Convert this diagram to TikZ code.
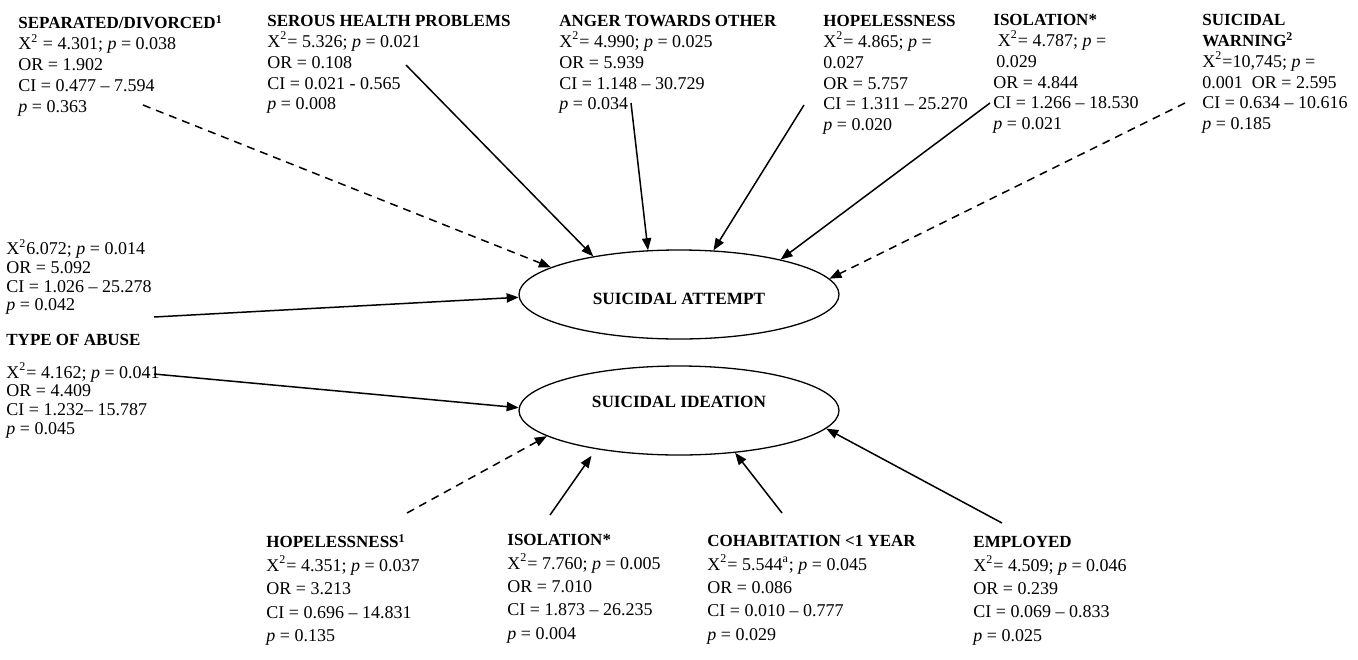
\documentclass[tikz,border=0pt]{standalone}
\usepackage{fontspec}
\setmainfont{Liberation Serif}
\usetikzlibrary{arrows.meta,shapes.geometric}
\newcommand{\chisq}{X\textsuperscript{2}}
\newcommand{\pval}{\textit{p}}
\newcommand{\hd}{\fontsize{8.5}{10}\selectfont\bfseries}

\begin{document}
\begin{tikzpicture}[x=0.5pt,y=-0.5pt,
  stat/.style={align=left, anchor=north west, inner sep=0pt},
  topstat/.style={stat, font=\fontsize{9}{10.4}\selectfont},
  sidestat/.style={stat, font=\fontsize{9}{9.3}\selectfont},
  lowstat/.style={stat, font=\fontsize{9}{11.7}\selectfont},
  outcome/.style={ellipse, draw, line width=0.65pt, minimum width=160pt, minimum height=44.5pt,
                  inner sep=0pt, font=\fontsize{8.6}{10}\selectfont\bfseries},
  sig/.style={line width=0.75pt, -{Triangle[length=6pt,width=4.6pt]}},
  nonsig/.style={sig, dash pattern=on 4pt off 3pt}]
\useasboundingbox (0,0) rectangle (1358,659);

%---------------- outcomes -----------------
\node[outcome, text height=10.2pt, text depth=0pt] (att) at (679,294.5) {SUICIDAL ATTEMPT};
\node[outcome, text height=5.7pt, text depth=8.5pt] (ide) at (679,410.5) {SUICIDAL IDEATION};

%---------------- factors for suicidal attempt -----------------
\node[topstat] (sep) at (18,15) {{\hd SEPARATED/DIVORCED\textsuperscript{1}}\\
  \chisq{} = 4.301; \pval{} = 0.038\\ OR = 1.902\\ CI = 0.477 -- 7.594\\ \pval{} = 0.363};
\node[topstat] (ser) at (267,15) {{\hd SEROUS HEALTH PROBLEMS}\\
  \chisq= 5.326; \pval{} = 0.021\\ OR = 0.108\\ CI = 0.021 - 0.565\\ \pval{} = 0.008};
\node[topstat] (ang) at (559,15) {{\hd ANGER TOWARDS OTHER}\\
  \chisq= 4.990; \pval{} = 0.025\\ OR = 5.939\\ CI = 1.148 -- 30.729\\ \pval{} = 0.034};
\node[topstat] (hop) at (823,15) {{\hd HOPELESSNESS}\\
  \chisq= 4.865; \pval{} =\\ 0.027\\ OR = 5.757\\ CI = 1.311 -- 25.270\\ \pval{} = 0.020};
\node[topstat] (iso) at (993,14) {{\hd ISOLATION*}\\
  \ \chisq= 4.787; \pval{} =\\ \,0.029\\ OR = 4.844\\ CI = 1.266 -- 18.530\\ \pval{} = 0.021};
\node[topstat] (war) at (1202,14) {{\hd SUICIDAL}\\ {\hd WARNING\textsuperscript{2}}\\
  \chisq=10,745; \pval{} =\\ 0.001\ \ OR = 2.595\\ CI = 0.634 -- 10.616\\ \pval{} = 0.185};

%---------------- type of abuse (both outcomes) -----------------
\node[sidestat] (abA) at (6,239) {\chisq6.072; \pval{} = 0.014\\ OR = 5.092\\
  CI = 1.026 -- 25.278\\ \pval{} = 0.042};
\node[sidestat] (abI) at (6,334) {{\hd TYPE OF ABUSE}\\[7pt]
  \chisq= 4.162; \pval{} = 0.041\\ OR = 4.409\\ CI = 1.232-- 15.787\\ \pval{} = 0.045};

%---------------- factors for suicidal ideation -----------------
\node[lowstat] (hopI) at (266,534) {{\hd HOPELESSNESS\textsuperscript{1}}\\
  \chisq= 4.351; \pval{} = 0.037\\ OR = 3.213\\ CI = 0.696 -- 14.831\\ \pval{} = 0.135};
\node[lowstat] (isoI) at (507,534) {{\hd ISOLATION*}\\
  \chisq= 7.760; \pval{} = 0.005\\ OR = 7.010\\ CI = 1.873 -- 26.235\\ \pval{} = 0.004};
\node[lowstat] (coh) at (707,535) {{\hd COHABITATION <1 YEAR}\\
  \chisq= 5.544\textsuperscript{a}; \pval{} = 0.045\\ OR = 0.086\\ CI = 0.010 -- 0.777\\ \pval{} = 0.029};
\node[lowstat] (emp) at (973,536) {{\hd EMPLOYED}\\
  \chisq= 4.509; \pval{} = 0.046\\ OR = 0.239\\ CI = 0.069 -- 0.833\\ \pval{} = 0.025};

% line starts beside the text blocks
\coordinate (sepS) at (143,105);
\coordinate (serS) at (406,65);
\coordinate (angS) at (631,103);
\coordinate (hopS) at (804,105);
\coordinate (isoS) at (990,103);
\coordinate (warS) at (1185,103);
\coordinate (abAS) at (154,317);
\coordinate (abIS) at (154,374);
\coordinate (hopIS) at (407,513);
\coordinate (isoIS) at (550,515);
\coordinate (cohS) at (782,513);
\coordinate (empS) at (1002,523);

%---------------- connectors -----------------
\draw[nonsig] (sepS) -- (att.168.6);
\draw[sig] (serS) -- (att.156.9);
\draw[sig] (angS) -- (att.125.8);
\draw[sig] (hopS) -- (att.52);
\draw[sig] (isoS) -- (att.19.6);
\draw[nonsig] (warS) -- (att.6.8);
\draw[sig] (abAS) -- (att.181.4);
\draw[sig] (abIS) -- (ide.179);
\draw[nonsig] (hopIS) -- (ide.191.2);
\draw[sig, shorten >=4pt] (isoIS) -- (ide.205.7);
\draw[sig] (cohS) -- (ide.323);
\draw[sig] (empS) -- (ide.353.4);

\end{tikzpicture}
\end{document}
